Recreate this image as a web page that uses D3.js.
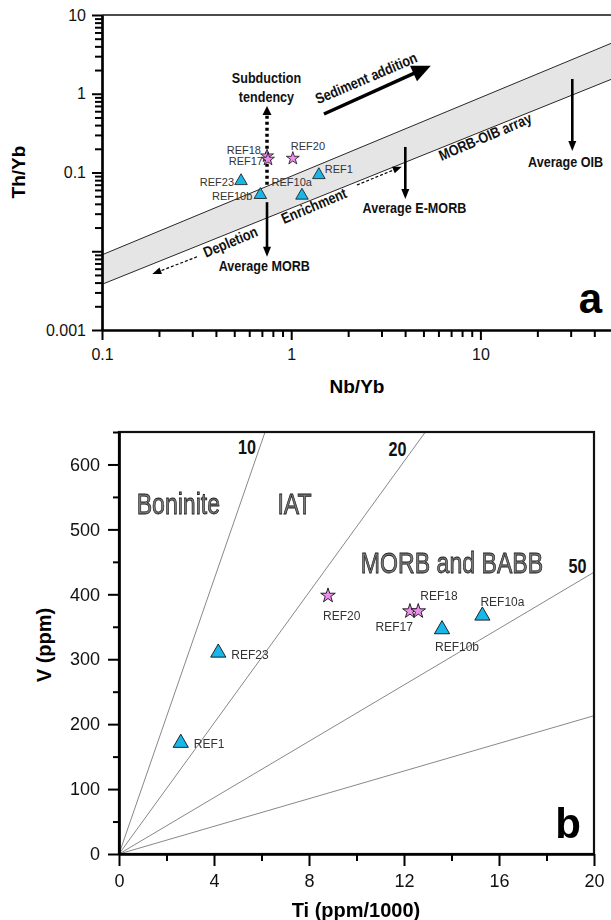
<!DOCTYPE html>
<html>
<head>
<meta charset="utf-8">
<script src="https://cdn.jsdelivr.net/npm/d3@7"></script>
<style>
  body { margin: 0; background: #fff; }
  svg { display: block; }
  text { font-family: "Liberation Sans", Arial, Helvetica, sans-serif; }
</style>
</head>
<body>
<div id="chart"></div>
<script>
// ---- panel a : Th/Yb vs Nb/Yb ----
const samplesA = ["REF18", "REF17", "REF20", "REF23", "REF10b", "REF10a", "REF1"];
const nbYbA   = [0.745, 0.754, 1.02, 0.543, 0.687, 1.14, 1.40];
const thYbA   = [0.162, 0.147, 0.151, 0.078, 0.052, 0.051, 0.093];
const kindA   = ["star", "star", "star", "tri", "tri", "tri", "tri"];

const arrayUpper = [[0.1, 0.009], [50, 4.45]];
const arrayLower = [[0.1, 0.0038], [50, 1.55]];

const yTicksA = [0.001, 0.01, 0.1, 1, 10];
const yTickLabelsA = ["0.001", "", "0.1", "1", "10"];
const xTicksA = [0.1, 1, 10];
const xTickLabelsA = ["0.1", "1", "10"];

const arrowsA = [
  {name: "subduction", from: [0.745, 0.07],  to: [0.745, 0.70]},
  {name: "morb",       from: [0.745, 0.042], to: [0.745, 0.0085]},
  {name: "emorb",      from: [4.01, 0.211],  to: [4.01, 0.046]},
  {name: "oib",        from: [30.6, 1.54],   to: [30.6, 0.1875]},
  {name: "sediment",   from: [1.49, 0.553],  to: [5.47, 2.27]},
  {name: "depletion",  from: [0.318, 0.0085], to: [0.1845, 0.00514]},
  {name: "enrichment", from: [2.225, 0.0694], to: [3.84, 0.1186]}
];

const notesA = [
  {text: "Subduction", x: 0.74, y: 1.585, rot: 0},
  {text: "tendency", x: 0.74, y: 0.91, rot: 0},
  {text: "Average MORB", x: 0.721, y: 0.0065, rot: 0},
  {text: "Average E-MORB", x: 4.48, y: 0.0354, rot: 0},
  {text: "Average OIB", x: 28.2, y: 0.136, rot: 0},
  {text: "Sediment addition", x: 2.49, y: 1.585, rot: -23},
  {text: "Depletion", x: 0.477, y: 0.0132, rot: -23},
  {text: "Enrichment", x: 1.319, y: 0.0379, rot: -23},
  {text: "MORB-OIB array", x: 10.6, y: 0.285, rot: -23}
];

// ---- panel b : V vs Ti ----
const samplesB = ["REF1", "REF23", "REF20", "REF17", "REF18", "REF10b", "REF10a"];
const tiB      = [2.6, 4.18, 8.8, 12.25, 12.6, 13.6, 15.3];
const vB       = [171, 310, 398, 374, 374, 346, 367];
const kindB    = ["tri", "tri", "star", "star", "star", "tri", "tri"];

const ratioLines  = [[[0, 0], [6.15, 650]], [[0, 0], [12.9, 650]], [[0, 0], [20, 434]], [[0, 0], [20, 213]]];
const ratioLabels = [{text: "10", x: 5.39, y: 626}, {text: "20", x: 11.73, y: 623}, {text: "50", x: 19.3, y: 443}];
const fieldLabels = [{text: "Boninite", x: 2.5, y: 540}, {text: "IAT", x: 7.39, y: 540}, {text: "MORB and BABB", x: 14.02, y: 449}];

const xTicksB = [0, 4, 8, 12, 16, 20];
const yTicksB = [0, 100, 200, 300, 400, 500, 600];

// label offsets (pixels) for sample names
const offA = {
  REF18: [-6, -6, "end"], REF17: [-5, 2, "end"], REF20: [-2, -12, "start"], REF1: [6, -6, "start"],
  REF23: [-7, 1, "end"], REF10a: [10, -13, "end"], REF10b: [-8, 1, "end"]
};
const offB = {
  REF20: [-5, 20, "start"], REF17: [3, 16, "end"], REF18: [2, -15, "start"], REF10b: [-7, 17, "start"],
  REF10a: [-2, -14, "start"], REF23: [13, 2, "start"], REF1: [13, 1, "start"]
};

const W = 611, H = 920;
const svg = d3.select("#chart").append("svg").attr("width", W).attr("height", H);
svg.append("rect").attr("width", W).attr("height", H).attr("fill", "#fff");

// grayscale raster for the outlined field names
svg.append("defs").append("filter").attr("id", "gray")
  .append("feColorMatrix").attr("type", "saturate").attr("values", 0);

const TRI = "#19b6e8", STAR = "#f08df0";
const sym = (k, s) => d3.symbol().type(k === "star" ? d3.symbolStar : d3.symbolTriangle).size(s)();

function arrow(g, p1, p2, o) {
  const dx = p2[0] - p1[0], dy = p2[1] - p1[1], L = Math.hypot(dx, dy);
  const ux = dx / L, uy = dy / L;
  const bx = p2[0] - ux * o.head, by = p2[1] - uy * o.head;
  g.append("line")
    .attr("x1", p1[0]).attr("y1", p1[1]).attr("x2", bx + ux * 1).attr("y2", by + uy * 1)
    .attr("stroke", "#000").attr("stroke-width", o.w)
    .attr("stroke-dasharray", o.dash || null);
  g.append("path")
    .attr("d", `M${p2[0]},${p2[1]}L${bx - uy * o.hw / 2},${by + ux * o.hw / 2}L${bx + uy * o.hw / 2},${by - ux * o.hw / 2}Z`)
    .attr("fill", "#000");
}

// ================= panel a =================
const xA = d3.scaleLog().domain([0.1, 100]).range([102, 102 + 3 * 189.2]);
const yA = d3.scaleLog().domain([0.001, 10]).range([330, 15]);

svg.append("clipPath").attr("id", "clipA")
  .append("rect").attr("x", 102).attr("y", 15).attr("width", W - 102).attr("height", 315);

const gA = svg.append("g");
const plotA = gA.append("g").attr("clip-path", "url(#clipA)");

const band = arrayUpper.concat(arrayLower.slice().reverse());
plotA.append("path")
  .attr("d", d3.line().x(d => xA(d[0])).y(d => yA(d[1]))(band) + "Z")
  .attr("fill", "#e5e5e5");
[arrayUpper, arrayLower].forEach(l => {
  plotA.append("path")
    .attr("d", d3.line().x(d => xA(d[0])).y(d => yA(d[1]))(l))
    .attr("fill", "none").attr("stroke", "#111").attr("stroke-width", 0.9);
});

// top frame line
gA.append("line").attr("x1", xA(0.1)).attr("x2", W).attr("y1", yA(10)).attr("y2", yA(10))
  .attr("stroke", "#111").attr("stroke-width", 1.4);

const arrowStyle = {
  subduction: {w: 3.5, head: 9, hw: 9, dash: "3,3"},
  morb: {w: 2.6, head: 10, hw: 8},
  emorb: {w: 2.6, head: 10, hw: 8},
  oib: {w: 2.6, head: 10, hw: 8},
  sediment: {w: 3.5, head: 19, hw: 17},
  depletion: {w: 1.2, head: 9, hw: 7, dash: "3,2"},
  enrichment: {w: 1.2, head: 9, hw: 7, dash: "3,2"}
};
arrowsA.forEach(a => {
  arrow(gA, [xA(a.from[0]), yA(a.from[1])], [xA(a.to[0]), yA(a.to[1])], arrowStyle[a.name]);
});

// narrow bold notes (scaled horizontally, like Arial Narrow)
gA.selectAll("text.note").data(notesA).join("text")
  .attr("class", "note")
  .attr("transform", d => `translate(${xA(d.x)},${yA(d.y)}) rotate(${d.rot}) scale(0.84,1)`)
  .attr("text-anchor", "middle").attr("dy", "0.35em")
  .attr("font-size", 15).attr("font-weight", "bold").attr("fill", "#111")
  .text(d => d.text);

// points
const ptsA = samplesA.map((s, i) => ({name: s, x: nbYbA[i], y: thYbA[i], k: kindA[i]}));
gA.selectAll("path.pt").data(ptsA).join("path")
  .attr("class", "pt")
  .attr("transform", d => `translate(${xA(d.x)},${yA(d.y)})`)
  .attr("d", d => sym(d.k, d.k === "star" ? 52 : 68))
  .attr("fill", d => d.k === "star" ? STAR : TRI)
  .attr("stroke", "#111").attr("stroke-width", 0.8);

gA.selectAll("text.lab").data(ptsA).join("text")
  .attr("class", "lab")
  .attr("x", d => xA(d.x) + offA[d.name][0])
  .attr("y", d => yA(d.y) + offA[d.name][1])
  .attr("dy", "0.35em").attr("text-anchor", d => offA[d.name][2])
  .attr("font-size", 11).attr("fill", "#333")
  .text(d => d.name);

// axes
gA.append("g").attr("transform", `translate(${xA(0.1)},0)`)
  .call(d3.axisLeft(yA).tickValues(yA.ticks().filter(v => !yTicksA.includes(v))).tickFormat("").tickSize(7).tickSizeOuter(0));
gA.append("g").attr("transform", `translate(${xA(0.1)},0)`)
  .call(d3.axisLeft(yA).tickValues(yTicksA).tickFormat((d, i) => yTickLabelsA[i]).tickSize(10).tickPadding(6).tickSizeOuter(0))
  .attr("font-size", 16).attr("font-family", null);
const minorX = d3.scaleLog().domain([0.1, 100]).ticks().filter(v => !xTicksA.includes(v) && xA(v) < W);
gA.append("g").attr("transform", `translate(0,${yA(0.001)})`)
  .call(d3.axisBottom(xA).tickValues(minorX).tickFormat("").tickSize(7).tickSizeOuter(0));
gA.append("g").attr("transform", `translate(0,${yA(0.001)})`)
  .call(d3.axisBottom(xA).tickValues(xTicksA).tickFormat((d, i) => xTickLabelsA[i]).tickSize(10).tickPadding(9).tickSizeOuter(0))
  .attr("font-size", 16).attr("font-family", null);
gA.selectAll(".domain").attr("stroke-width", 2.2);
gA.selectAll(".tick line").attr("stroke-width", 2);
gA.selectAll(".tick text").attr("fill", "#111");

gA.append("text").attr("transform", `translate(18,172) rotate(-90)`)
  .attr("text-anchor", "middle").attr("dy", "0.35em")
  .attr("font-size", 19).attr("font-weight", "bold").text("Th/Yb");
gA.append("text").attr("x", 357).attr("y", 393)
  .attr("text-anchor", "middle")
  .attr("font-size", 19).attr("font-weight", "bold").text("Nb/Yb");
gA.append("text").attr("x", 602).attr("y", 313).attr("text-anchor", "end")
  .attr("font-size", 42).attr("font-weight", "bold").text("a");

// ================= panel b =================
const xB = d3.scaleLinear().domain([0, 20]).range([119, 594]);
const yB = d3.scaleLinear().domain([0, 650]).range([854, 432]);
const gB = svg.append("g");

gB.selectAll("path.ratio").data(ratioLines).join("path")
  .attr("class", "ratio")
  .attr("d", d3.line().x(d => xB(d[0])).y(d => yB(d[1])))
  .attr("fill", "none").attr("stroke", "#888").attr("stroke-width", 1);

gB.selectAll("text.ratio").data(ratioLabels).join("text")
  .attr("class", "ratio")
  .attr("transform", d => `translate(${xB(d.x)},${yB(d.y)}) scale(0.83,1)`)
  .attr("text-anchor", "middle").attr("dy", "0.35em")
  .attr("font-size", 19.5).attr("font-weight", "bold").attr("fill", "#111")
  .text(d => d.text);

gB.append("g").attr("filter", "url(#gray)")
  .selectAll("text.field").data(fieldLabels).join("text")
  .attr("class", "field")
  .attr("transform", d => `translate(${xB(d.x)},${yB(d.y)}) scale(0.77,1)`)
  .attr("text-anchor", "middle").attr("dy", "0.36em")
  .attr("font-size", 30).attr("fill", "#7a7a7a")
  .attr("stroke", "#1a1a1a").attr("stroke-width", 0.8)
  .text(d => d.text);

const ptsB = samplesB.map((s, i) => ({name: s, x: tiB[i], y: vB[i], k: kindB[i]}));
gB.selectAll("path.pt").data(ptsB).join("path")
  .attr("class", "pt")
  .attr("transform", d => `translate(${xB(d.x)},${yB(d.y)})`)
  .attr("d", d => sym(d.k, d.k === "star" ? 66 : 100))
  .attr("fill", d => d.k === "star" ? STAR : TRI)
  .attr("stroke", "#111").attr("stroke-width", 0.9);

gB.selectAll("text.lab").data(ptsB).join("text")
  .attr("class", "lab")
  .attr("x", d => xB(d.x) + offB[d.name][0])
  .attr("y", d => yB(d.y) + offB[d.name][1])
  .attr("dy", "0.35em").attr("text-anchor", d => offB[d.name][2])
  .attr("font-size", 12).attr("fill", "#333")
  .text(d => d.name);

// frame
gB.append("rect").attr("x", xB(0)).attr("y", yB(650))
  .attr("width", xB(20) - xB(0)).attr("height", yB(0) - yB(650))
  .attr("fill", "none").attr("stroke", "#111").attr("stroke-width", 2.2);

gB.append("g").attr("transform", `translate(${xB(0)},0)`)
  .call(d3.axisLeft(yB).tickValues(d3.range(50, 651, 100)).tickFormat("").tickSize(6).tickSizeOuter(0));
gB.append("g").attr("transform", `translate(${xB(0)},0)`)
  .call(d3.axisLeft(yB).tickValues(yTicksB).tickSize(11).tickPadding(8).tickSizeOuter(0))
  .attr("font-size", 18).attr("font-family", null);
gB.append("g").attr("transform", `translate(0,${yB(0)})`)
  .call(d3.axisBottom(xB).tickValues(d3.range(2, 20, 4)).tickFormat("").tickSize(7).tickSizeOuter(0));
gB.append("g").attr("transform", `translate(0,${yB(0)})`)
  .call(d3.axisBottom(xB).tickValues(xTicksB).tickSize(12).tickPadding(8).tickSizeOuter(0))
  .attr("font-size", 18).attr("font-family", null);
gB.selectAll(".domain").attr("stroke-width", 2.2);
gB.selectAll(".tick line").attr("stroke-width", 2);
gB.selectAll(".tick text").attr("fill", "#111");

gB.append("text").attr("transform", `translate(44,645) rotate(-90)`)
  .attr("text-anchor", "middle").attr("dy", "0.35em")
  .attr("font-size", 20).attr("font-weight", "bold").text("V (ppm)");
gB.append("text").attr("x", 356).attr("y", 917)
  .attr("text-anchor", "middle")
  .attr("font-size", 20).attr("font-weight", "bold").text("Ti (ppm/1000)");
gB.append("text").attr("x", 581).attr("y", 838).attr("text-anchor", "end")
  .attr("font-size", 42).attr("font-weight", "bold").text("b");
</script>
</body>
</html>
